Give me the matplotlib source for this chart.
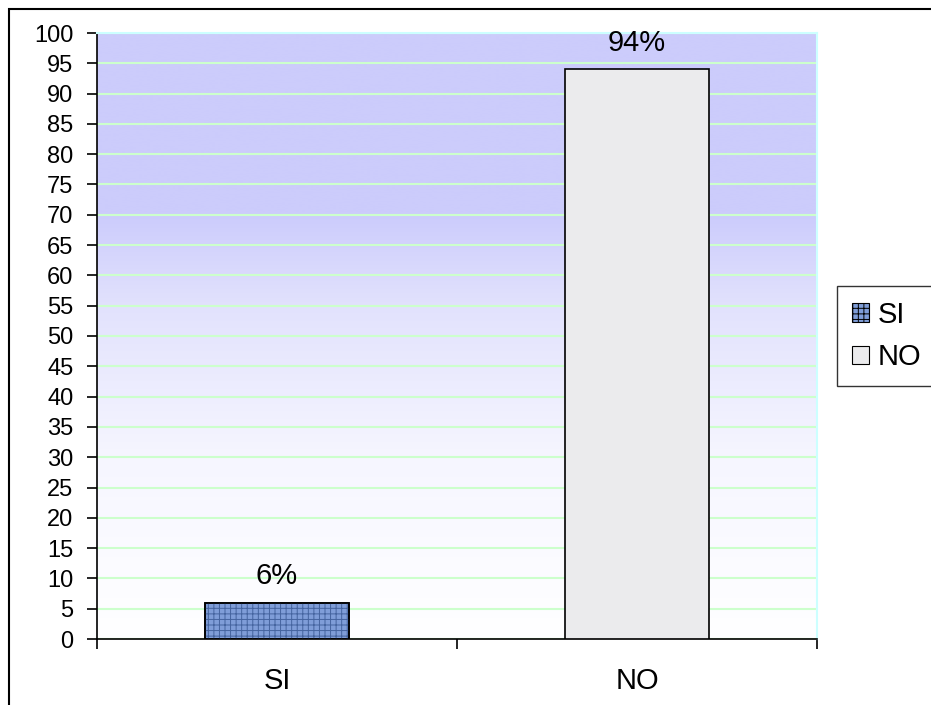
import numpy as np
import matplotlib.pyplot as plt
from matplotlib.patches import Patch, Rectangle
from matplotlib.colors import LinearSegmentedColormap

plt.rcParams['font.family'] = ['Liberation Sans', 'DejaVu Sans']
plt.rcParams['hatch.linewidth'] = 0.7

# ------------------------------
# Data
# ------------------------------
categories = ["SI", "NO"]
values = [6, 94]
value_labels = ["6%", "94%"]
y_ticks = list(range(0, 101, 5))

bar_colors = ["#7f9dd8", "#ebebed"]
hatch_colors = ["#45649f", "#d4d4d8"]
hatches = ["+++", None]

# ------------------------------
# Figure
# ------------------------------
fig = plt.figure(figsize=(9.31, 7.05), dpi=100)
ax = fig.add_axes([97 / 931, 1 - 639 / 705, 720 / 931, 606 / 705])

# gradient background: flat lavender on top, fading to white toward the bottom
grad = np.linspace(0, 1, 256).reshape(-1, 1)
cmap = LinearSegmentedColormap.from_list(
    "bg", [(0.0, "#ffffff"), (0.3, "#f6f6ff"), (0.55, "#e2e2fd"),
           (0.7, "#ccccfc"), (1.0, "#ccccfb")])
ax.imshow(grad, extent=[-0.5, 1.5, 0, 100], origin="lower", aspect="auto",
          cmap=cmap, zorder=0, interpolation="bicubic")

x = np.arange(len(categories))
for i in range(len(categories)):
    ax.bar(x[i], values[i], width=0.4, color=bar_colors[i],
           edgecolor="black", linewidth=1.2, zorder=3)
    if hatches[i]:
        ax.bar(x[i], values[i], width=0.4, color="none",
               edgecolor=hatch_colors[i], hatch=hatches[i], linewidth=0, zorder=4)
        ax.bar(x[i], values[i], width=0.4, color="none",
               edgecolor="black", linewidth=1.2, zorder=5)
    ax.annotate(value_labels[i], (x[i], values[i]), xytext=(0, 9),
                textcoords="offset points", ha="center", va="bottom", fontsize=21)

ax.set_xlim(-0.5, 1.5)
ax.set_ylim(0, 100)
ax.set_yticks(y_ticks)
ax.tick_params(axis="y", labelsize=17, length=7, width=1.2, direction="out", pad=10)
ax.yaxis.grid(True, color="#ccffcc", linewidth=1.5, zorder=1)
ax.set_axisbelow(True)

ax.set_xticks(x)
ax.set_xticklabels(categories)
ax.tick_params(axis="x", which="major", labelsize=21, length=0, pad=20)
ax.set_xticks([-0.5, 0.5, 1.5], minor=True)
ax.tick_params(axis="x", which="minor", length=7, width=1.2, direction="out")

for side in ["left", "bottom"]:
    ax.spines[side].set_color("black")
    ax.spines[side].set_linewidth(1.2)
for side in ["top", "right"]:
    ax.spines[side].set_color("#ccffff")
    ax.spines[side].set_linewidth(1.5)

# legend
handles = [
    Patch(facecolor=bar_colors[0], edgecolor="black", hatch="+++", linewidth=0.8),
    Patch(facecolor=bar_colors[1], edgecolor="black", linewidth=0.8),
]
leg = fig.legend(handles, categories, loc="upper left",
                 bbox_to_anchor=(837 / 931, 1 - 286 / 705), fontsize=21,
                 frameon=True, fancybox=False, handlelength=0.6, handleheight=0.6,
                 handletextpad=0.3, borderpad=0.5, labelspacing=0.5, borderaxespad=0)
leg.get_frame().set_edgecolor("black")
leg.get_frame().set_linewidth(1.0)

# outer chart frame
fig.patches.append(Rectangle((9 / 931, -0.1), 1.2, 1 - 9 / 705 + 0.1,
                             transform=fig.transFigure, fill=False,
                             edgecolor="black", linewidth=1.5))

fig.savefig("out.png", dpi=100)
